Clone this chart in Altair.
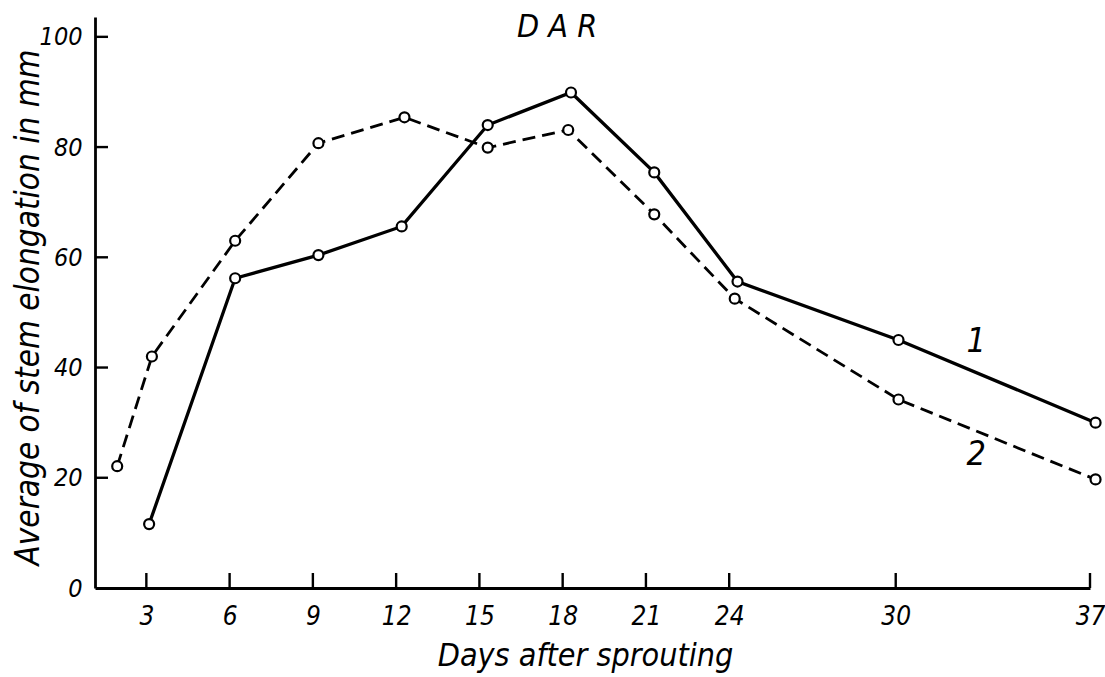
import altair as alt
import pandas as pd

# Series 1 (solid) and series 2 (dashed)
days1 = [3.1, 6.2, 9.2, 12.2, 15.3, 18.3, 21.3, 24.3, 30.1, 37.2]
vals1 = [11.6, 56.2, 60.4, 65.6, 84.0, 89.9, 75.4, 55.6, 45.0, 30.0]
days2 = [1.95, 3.2, 6.2, 9.2, 12.3, 15.3, 18.2, 21.3, 24.2, 30.1, 37.2]
vals2 = [22.1, 42.0, 63.0, 80.7, 85.4, 79.9, 83.1, 67.8, 52.5, 34.2, 19.7]

x_ticks = [3, 6, 9, 12, 15, 18, 21, 24, 30, 37]
y_ticks = [0, 20, 40, 60, 80, 100]
y_inner_ticks = [20, 40, 60, 80, 100]

label_text = ["1", "2"]
label_day = [32.9, 32.9]
label_val = [44.7, 24.1]

title_text = ["D A R"]
title_day = [17.8]
title_val = [101.8]

FONT = "DejaVu Sans Condensed, DejaVu Sans, sans-serif"
W, H = 995, 571
XDOM = [1.15, 37.0]
YDOM = [0, 103.6]

d1 = pd.DataFrame({"day": days1, "val": vals1})
d2 = pd.DataFrame({"day": days2, "val": vals2})
xs = alt.Scale(domain=XDOM, nice=False, zero=False, clamp=False)
ys = alt.Scale(domain=YDOM, nice=False, zero=False)

xaxis = alt.Axis(values=x_ticks, ticks=False, grid=False, domainWidth=2.8, domainColor="black",
                 labelFont=FONT, labelFontStyle="italic", labelFontSize=26, labelColor="black",
                 labelPadding=15, labelFlush=False,
                 title="Days after sprouting", titleFont=FONT, titleFontStyle="italic",
                 titleFontWeight="normal", titleFontSize=32, titleColor="black",
                 titleX=490, titleY=67, titleBaseline="middle", titleAlign="center")
yaxis = alt.Axis(values=y_ticks, ticks=False, grid=False, domainWidth=2.8, domainColor="black",
                 labelFont=FONT, labelFontStyle="italic", labelFontSize=25, labelColor="black",
                 labelPadding=13, labelFlush=False,
                 title="Average of stem elongation in mm", titleFont=FONT, titleFontStyle="italic",
                 titleFontWeight="normal", titleFontSize=33, titleColor="black",
                 titleX=-67, titleY=290, titleAngle=270, titleBaseline="middle", titleAlign="center")

X = alt.X("day:Q", scale=xs, axis=xaxis)
Y = alt.Y("val:Q", scale=ys, axis=yaxis)

xt = alt.Chart(pd.DataFrame({"day": x_ticks})).mark_rule(color="black", strokeWidth=2.4).encode(
    x=X, y=alt.value(H), y2=alt.value(H - 15))
yt = alt.Chart(pd.DataFrame({"val": y_inner_ticks})).mark_rule(color="black", strokeWidth=2.4).encode(
    y=Y, x=alt.value(0), x2=alt.value(13))

line1 = alt.Chart(d1).mark_line(color="black", strokeWidth=3.3, clip=False).encode(x=X, y=Y)
line2 = alt.Chart(d2).mark_line(color="black", strokeWidth=2.8, strokeDash=[13, 7], clip=False).encode(x=X, y=Y)
pts1 = alt.Chart(d1).mark_point(shape="circle", size=100, filled=True, fill="white", stroke="black",
                                strokeWidth=2.2, opacity=1, clip=False).encode(x=X, y=Y)
pts2 = alt.Chart(d2).mark_point(shape="circle", size=100, filled=True, fill="white", stroke="black",
                                strokeWidth=2.2, opacity=1, clip=False).encode(x=X, y=Y)

labels = alt.Chart(pd.DataFrame({"day": label_day, "val": label_val, "t": label_text})).mark_text(
    font=FONT, fontStyle="italic", fontSize=34, color="black", align="center", baseline="middle").encode(
    x=X, y=Y, text="t:N")

title = alt.Chart(pd.DataFrame({"day": title_day, "val": title_val, "t": title_text})).mark_text(
    font=FONT, fontStyle="italic", fontSize=32, color="black",
    align="center", baseline="middle").encode(
    x=X, y=Y, text="t:N")

chart = alt.layer(xt, yt, line2, line1, pts2, pts1, labels, title).properties(
    width=W, height=H,
    autosize=alt.AutoSizeParams(type="none"),
    padding={"left": 95, "top": 17, "right": 15, "bottom": 89},
    background="white",
).configure_view(stroke=None)

chart.save("out.html", embed_options={"renderer": "svg", "actions": False})
